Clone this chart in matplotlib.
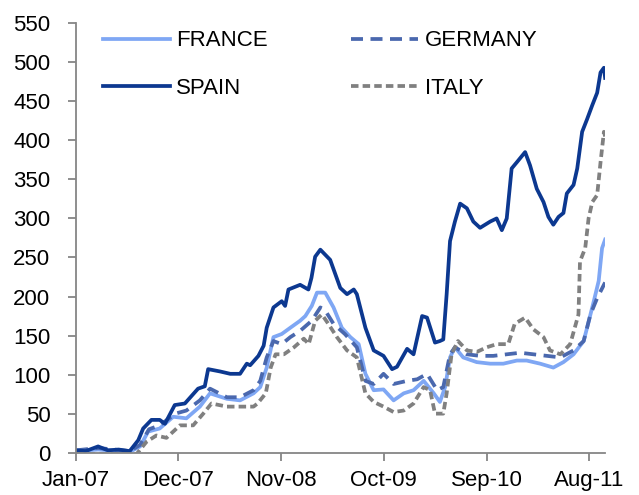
import matplotlib
matplotlib.use("Agg")
import matplotlib.pyplot as plt
import pandas as pd

plt.rcParams['font.family'] = ['Liberation Sans', 'DejaVu Sans']

# spread vs. bund (bp)
spain_dates = ["2007-01-01", "2007-02-01", "2007-03-14", "2007-04-15", "2007-05-20", "2007-06-25",
               "2007-07-23", "2007-08-08", "2007-09-04", "2007-10-01", "2007-10-18", "2007-11-19",
               "2007-12-22", "2008-02-03", "2008-02-25", "2008-03-07", "2008-04-15", "2008-05-18",
               "2008-06-19", "2008-07-11", "2008-07-22", "2008-08-18", "2008-09-04", "2008-09-14",
               "2008-10-06", "2008-11-02", "2008-11-13", "2008-11-24", "2009-01-01", "2009-01-28",
               "2009-02-07", "2009-02-19", "2009-03-08", "2009-04-09", "2009-05-12", "2009-06-03",
               "2009-06-25", "2009-07-05", "2009-08-02", "2009-08-29", "2009-09-30", "2009-10-28",
               "2009-11-13", "2009-12-16", "2010-01-06", "2010-02-03", "2010-02-19", "2010-03-17",
               "2010-04-02", "2010-04-13", "2010-04-24", "2010-05-05", "2010-05-21", "2010-06-07",
               "2010-06-29", "2010-07-20", "2010-08-11", "2010-09-13", "2010-10-04", "2010-10-21",
               "2010-11-06", "2010-11-22", "2010-12-09", "2011-01-05", "2011-01-21", "2011-02-12",
               "2011-03-06", "2011-03-22", "2011-04-07", "2011-04-24", "2011-05-10", "2011-05-21",
               "2011-06-12", "2011-06-24", "2011-07-10", "2011-07-26", "2011-08-12", "2011-08-28",
               "2011-09-08", "2011-09-19", "2011-09-23"]
spain = [3, 2, 8, 3, 4, 2,
         16, 31, 42, 42, 37, 61,
         63, 82, 85, 107, 104, 101,
         101, 114, 112, 124, 137, 160,
         186, 194, 188, 209, 215, 209,
         224, 251, 260, 247, 211, 203,
         209, 203, 160, 131, 124, 107,
         110, 133, 126, 175, 173, 141,
         143, 145, 203, 271, 296, 319,
         313, 296, 288, 296, 300, 285,
         300, 364, 372, 385, 368, 338,
         321, 302, 292, 302, 307, 332,
         343, 364, 411, 427, 445, 461,
         487, 493, 480]

france_dates = ["2007-01-01", "2007-03-14", "2007-06-25", "2007-07-29", "2007-08-24", "2007-10-01",
                "2007-11-14", "2007-12-27", "2008-02-09", "2008-03-13", "2008-05-07", "2008-06-19",
                "2008-08-02", "2008-08-24", "2008-09-14", "2008-10-06", "2008-11-02", "2008-11-30",
                "2009-01-01", "2009-01-18", "2009-02-08", "2009-02-25", "2009-03-24", "2009-04-20",
                "2009-05-17", "2009-06-14", "2009-07-11", "2009-08-02", "2009-08-29", "2009-09-30",
                "2009-11-02", "2009-12-05", "2010-01-06", "2010-02-08", "2010-03-13", "2010-04-02",
                "2010-04-19", "2010-05-05", "2010-05-21", "2010-06-17", "2010-07-31", "2010-09-13",
                "2010-10-26", "2010-12-09", "2011-01-10", "2011-02-23", "2011-04-07", "2011-05-10",
                "2011-06-12", "2011-07-15", "2011-08-01", "2011-08-17", "2011-09-02", "2011-09-13",
                "2011-09-23"]
france = [2, 4, 1, 8, 27, 31,
          46, 44, 59, 76, 69, 67,
          76, 84, 109, 148, 152, 160,
          169, 175, 188, 205, 205, 186,
          160, 148, 139, 101, 80, 81,
          67, 76, 80, 92, 76, 65,
          84, 122, 135, 122, 116, 114,
          114, 118, 118, 114, 109, 116,
          126, 143, 169, 194, 220, 262,
          273]

germany_dates = ["2007-01-01", "2007-03-14", "2007-06-25", "2007-07-29", "2007-08-27", "2007-10-01",
                 "2007-11-21", "2007-12-27", "2008-02-09", "2008-03-13", "2008-05-07", "2008-06-19",
                 "2008-08-02", "2008-08-24", "2008-09-14", "2008-10-06", "2008-11-02", "2008-11-30",
                 "2009-01-01", "2009-02-08", "2009-03-08", "2009-03-24", "2009-04-20", "2009-05-27",
                 "2009-07-05", "2009-08-02", "2009-08-29", "2009-09-30", "2009-11-02", "2009-12-16",
                 "2010-01-18", "2010-02-19", "2010-03-24", "2010-04-13", "2010-05-05", "2010-05-21",
                 "2010-06-29", "2010-08-11", "2010-09-23", "2010-11-06", "2010-12-20", "2011-02-01",
                 "2011-03-17", "2011-04-30", "2011-06-12", "2011-07-15", "2011-08-06", "2011-08-28",
                 "2011-09-19", "2011-09-23"]
germany = [3, 6, 2, 10, 30, 35,
           50, 54, 67, 82, 71, 71,
           80, 92, 122, 143, 139, 148,
           156, 169, 186, 182, 165, 152,
           135, 92, 88, 101, 88, 92,
           94, 101, 80, 84, 126, 135,
           126, 124, 124, 126, 128, 126,
           124, 122, 131, 143, 177, 198,
           215, 218]

italy_dates = ["2007-01-01", "2007-07-17", "2007-08-19", "2007-09-20", "2007-10-23", "2007-12-06",
               "2008-01-18", "2008-02-20", "2008-03-18", "2008-05-07", "2008-06-19", "2008-08-02",
               "2008-08-15", "2008-09-11", "2008-09-27", "2008-10-13", "2008-11-09", "2008-12-12",
               "2009-01-13", "2009-01-29", "2009-02-19", "2009-03-13", "2009-04-03", "2009-05-01",
               "2009-06-03", "2009-07-05", "2009-08-02", "2009-08-29", "2009-09-30", "2009-11-02",
               "2009-12-05", "2010-01-06", "2010-02-08", "2010-03-01", "2010-03-17", "2010-04-13",
               "2010-04-24", "2010-05-10", "2010-05-31", "2010-06-29", "2010-07-31", "2010-09-02",
               "2010-10-04", "2010-11-11", "2010-12-02", "2011-01-05", "2011-02-01", "2011-03-06",
               "2011-03-27", "2011-04-30", "2011-06-01", "2011-06-28", "2011-07-03", "2011-07-20",
               "2011-07-31", "2011-08-12", "2011-08-28", "2011-09-08", "2011-09-19", "2011-09-23"]
italy = [-2, -2, 14, 22, 19, 35,
         35, 50, 63, 59, 59, 59,
         63, 76, 109, 126, 126, 135,
         146, 139, 169, 177, 165, 148,
         131, 122, 76, 65, 59, 52,
         54, 63, 84, 80, 50, 50,
         76, 126, 143, 131, 129, 135,
         139, 139, 165, 173, 158, 148,
         131, 126, 139, 177, 245, 262,
         300, 321, 330, 372, 411, 405]

tick_dates = ["2007-01-01", "2007-12-01", "2008-11-01", "2009-10-01", "2010-09-01", "2011-08-01"]
tick_labels = ["Jan-07", "Dec-07", "Nov-08", "Oct-09", "Sep-10", "Aug-11"]

fig = plt.figure(figsize=(6.39, 4.95), dpi=100)
ax = fig.add_axes([0.119, 0.0855, 0.828, 0.8675])

lw = 2.7
fr, = ax.plot(pd.to_datetime(france_dates), france, color='#7FA7F4', lw=lw, label='FRANCE')
de, = ax.plot(pd.to_datetime(germany_dates), germany, color='#4A68AE', lw=lw,
              dashes=(3.2, 2.0), label='GERMANY')
es, = ax.plot(pd.to_datetime(spain_dates), spain, color='#0C3890', lw=lw, label='SPAIN')
it, = ax.plot(pd.to_datetime(italy_dates), italy, color='#808080', lw=lw,
              dashes=(2.0, 1.1), label='ITALY')

ax.set_ylim(0, 550)
ax.set_yticks(range(0, 551, 50))
ax.set_xlim(pd.Timestamp("2007-01-01"), pd.Timestamp("2011-09-23"))
ax.set_xticks(pd.to_datetime(tick_dates))
ax.set_xticklabels(tick_labels)

for s in ['top', 'right']:
    ax.spines[s].set_visible(False)
for s in ['left', 'bottom']:
    ax.spines[s].set_color('#868686')
    ax.spines[s].set_linewidth(1.3)
ax.tick_params(axis='both', colors='#868686', width=1.3, length=5.5,
               labelsize=16, labelcolor='black')
ax.tick_params(axis='y', pad=13)
ax.tick_params(axis='x', pad=7)

ax.legend(handles=[fr, es, de, it], loc='upper left', ncol=2, frameon=False, fontsize=16,
          handlelength=3.0, handletextpad=0.3, columnspacing=3.75,
          labelspacing=1.2, bbox_to_anchor=(0.013, 1.03))

fig.savefig('out.png', dpi=100)
